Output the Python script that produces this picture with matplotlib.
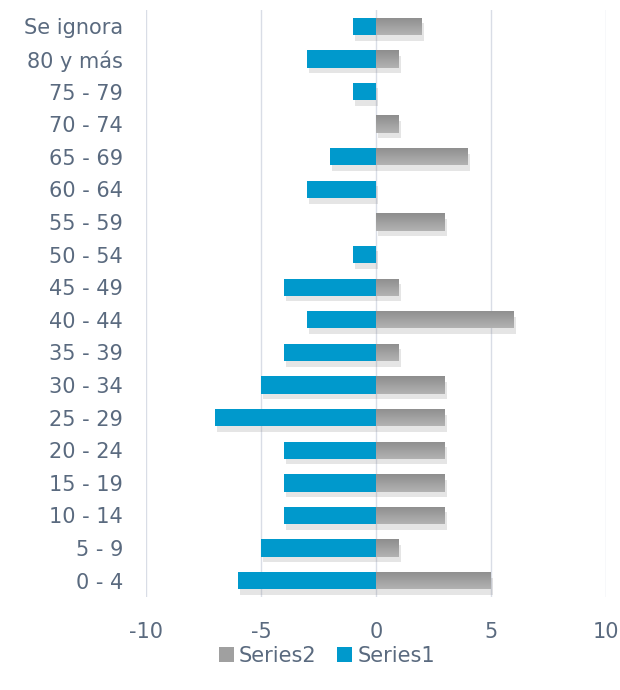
import numpy as np
import matplotlib.pyplot as plt
import matplotlib.patheffects as pe
from matplotlib.colors import LinearSegmentedColormap

# age groups, bottom to top
categories = ['0 - 4', '5 - 9', '10 - 14', '15 - 19', '20 - 24', '25 - 29',
              '30 - 34', '35 - 39', '40 - 44', '45 - 49', '50 - 54', '55 - 59',
              '60 - 64', '65 - 69', '70 - 74', '75 - 79', '80 y más', 'Se ignora']
series1 = [-6, -5, -4, -4, -4, -7, -5, -4, -3, -4, -1, 0, -3, -2, 0, -1, -3, -1]
series2 = [5, 1, 3, 3, 3, 3, 3, 1, 6, 1, 0, 3, 0, 4, 1, 0, 1, 2]
x_ticks = [-10, -5, 0, 5, 10]

text_color = '#5a6a7f'
blue = '#0099cc'
plt.rcParams['font.family'] = ['DejaVu Sans']

fig = plt.figure(figsize=(6.2, 6.9), dpi=100)
ax = fig.add_axes([146 / 620, 1 - 597 / 690, 460 / 620, 587 / 690])

y = np.arange(len(categories))
h = 0.53

bars1 = ax.barh(y, series1, height=h, color=blue, zorder=3, label='Series1')
bars2 = ax.barh(y, series2, height=h, color='#a0a0a0', zorder=3, label='Series2')

# soft drop shadow under every non-empty bar
for b in list(bars1) + list(bars2):
    if b.get_width() != 0:
        b.set_path_effects([pe.SimplePatchShadow(offset=(1.5, -4),
                                                 shadow_rgbFace='#8a8a8a', alpha=0.22),
                            pe.Normal()])

# vertical gradient on the grey bars
grey_cmap = LinearSegmentedColormap.from_list('grey', ['#b2b2b2', '#8e8e8e'])
grad = np.linspace(0, 1, 64).reshape(-1, 1)
for b in bars2:
    if b.get_width() == 0:
        continue
    x0, y0 = b.get_x(), b.get_y()
    im = ax.imshow(grad, cmap=grey_cmap, aspect='auto', zorder=4,
                   extent=[x0, x0 + b.get_width(), y0 + b.get_height(), y0],
                   interpolation='bilinear')
    im.set_clip_path(b)

ax.set_xlim(-10, 10)
ax.set_ylim(-0.5, len(categories) - 0.5)
ax.set_xticks(x_ticks)
ax.set_xticklabels([str(t) for t in x_ticks])
ax.set_yticks(y)
ax.set_yticklabels(categories)
ax.tick_params(length=0, labelsize=15, colors=text_color)
ax.tick_params(axis='y', pad=16.5)
ax.tick_params(axis='x', pad=18)
ax.grid(axis='x', color='#d9dde6', linewidth=1, zorder=0)
for s in ax.spines.values():
    s.set_visible(False)

leg = fig.legend([bars2, bars1], ['Series2', 'Series1'], loc='center',
                 bbox_to_anchor=(327 / 620, 1 - 656 / 690), ncol=2, frameon=False,
                 fontsize=15, handlelength=0.7, handleheight=0.7,
                 handletextpad=0.25, columnspacing=1.0, labelcolor=text_color)
for hdl in leg.legend_handles:
    hdl.set_path_effects([])

fig.savefig('out.png', dpi=100)
